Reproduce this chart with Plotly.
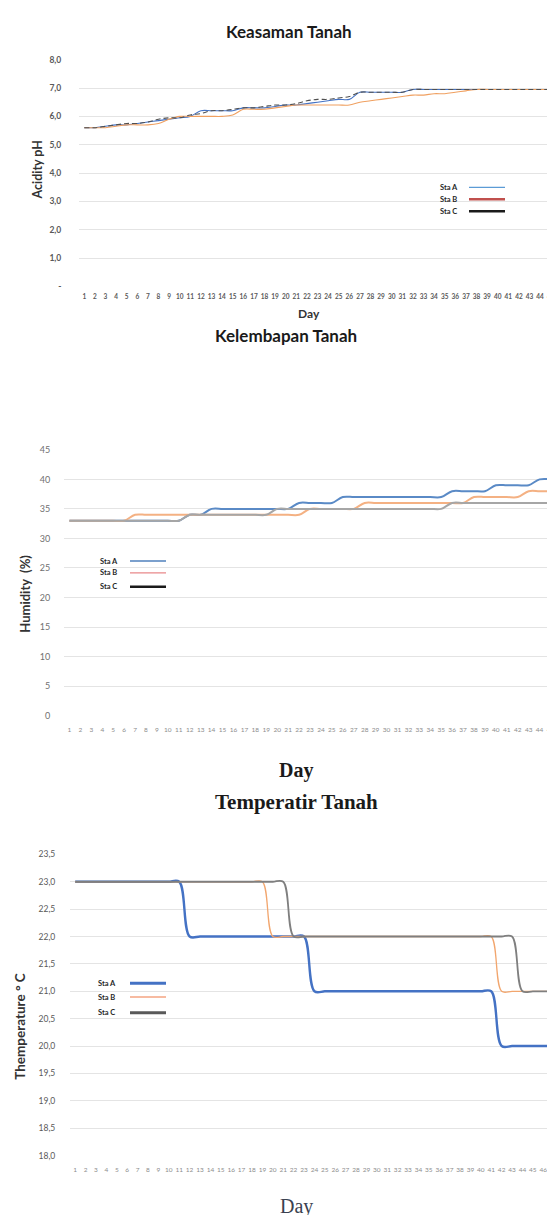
import plotly.graph_objects as go

W, H = 555, 1215

# ---------------- data ----------------
series_names = ["Sta A", "Sta B", "Sta C"]

# Chart 1 : Keasaman Tanah (pH)
ph_days = list(range(1, 46))
ph_sta_a = [5.6, 5.6, 5.65, 5.7, 5.7, 5.75, 5.8, 5.85, 5.9, 5.95,
            6.0, 6.2, 6.2, 6.2, 6.2, 6.3, 6.3, 6.3, 6.35, 6.4,
            6.4, 6.45, 6.5, 6.55, 6.6, 6.6, 6.85, 6.85, 6.85, 6.85,
            6.85, 6.95, 6.95, 6.95, 6.95, 6.95, 6.95, 6.95, 6.95, 6.95,
            6.95, 6.95, 6.95, 6.95, 6.95]
ph_sta_b = [5.6, 5.6, 5.6, 5.65, 5.7, 5.7, 5.7, 5.75, 5.9, 6.0,
            6.0, 6.0, 6.0, 6.0, 6.05, 6.25, 6.25, 6.25, 6.3, 6.35,
            6.4, 6.4, 6.4, 6.4, 6.4, 6.4, 6.5, 6.55, 6.6, 6.65,
            6.7, 6.75, 6.75, 6.8, 6.8, 6.85, 6.9, 6.95, 6.95, 6.95,
            6.95, 6.95, 6.95, 6.95, 6.95]
ph_sta_c = [5.6, 5.6, 5.65, 5.7, 5.75, 5.75, 5.8, 5.9, 5.95, 5.95,
            6.05, 6.1, 6.2, 6.2, 6.25, 6.3, 6.3, 6.35, 6.4, 6.4,
            6.45, 6.55, 6.6, 6.6, 6.65, 6.7, 6.85, 6.85, 6.85, 6.85,
            6.85, 6.95, 6.95, 6.95, 6.95, 6.95, 6.95, 6.95, 6.95, 6.95,
            6.95, 6.95, 6.95, 6.95, 6.95]
ph_tickvals = [0, 1, 2, 3, 4, 5, 6, 7, 8]
ph_ticktext = ["-", "1,0", "2,0", "3,0", "4,0", "5,0", "6,0", "7,0", "8,0"]

# Chart 2 : Kelembapan Tanah (humidity %)
hum_days = list(range(1, 46))
hum_sta_a = [33, 33, 33, 33, 33, 33, 33, 33, 33, 33,
             33, 34, 34, 35, 35, 35, 35, 35, 35, 35,
             35, 36, 36, 36, 36, 37, 37, 37, 37, 37,
             37, 37, 37, 37, 37, 38, 38, 38, 38, 39,
             39, 39, 39, 40, 40]
hum_sta_b = [33, 33, 33, 33, 33, 33, 34, 34, 34, 34,
             34, 34, 34, 34, 34, 34, 34, 34, 34, 34,
             34, 34, 35, 35, 35, 35, 35, 36, 36, 36,
             36, 36, 36, 36, 36, 36, 36, 37, 37, 37,
             37, 37, 38, 38, 38]
hum_sta_c = [33, 33, 33, 33, 33, 33, 33, 33, 33, 33,
             33, 34, 34, 34, 34, 34, 34, 34, 34, 35,
             35, 35, 35, 35, 35, 35, 35, 35, 35, 35,
             35, 35, 35, 35, 35, 36, 36, 36, 36, 36,
             36, 36, 36, 36, 36]
hum_tickvals = [0, 5, 10, 15, 20, 25, 30, 35, 40, 45]

# Chart 3 : Temperatir Tanah (deg C)
temp_days = list(range(1, 51))
temp_sta_a = [23, 23, 23, 23, 23, 23, 23, 23, 23, 23,
              23, 22, 22, 22, 22, 22, 22, 22, 22, 22,
              22, 22, 22, 21, 21, 21, 21, 21, 21, 21,
              21, 21, 21, 21, 21, 21, 21, 21, 21, 21,
              21, 20, 20, 20, 20, 20, 20, 20, 20, 20]
temp_sta_b = [23, 23, 23, 23, 23, 23, 23, 23, 23, 23,
              23, 23, 23, 23, 23, 23, 23, 23, 23, 22,
              22, 22, 22, 22, 22, 22, 22, 22, 22, 22,
              22, 22, 22, 22, 22, 22, 22, 22, 22, 22,
              22, 21, 21, 21, 21, 21, 21, 21, 21, 21]
temp_sta_c = [23, 23, 23, 23, 23, 23, 23, 23, 23, 23,
              23, 23, 23, 23, 23, 23, 23, 23, 23, 23,
              23, 22, 22, 22, 22, 22, 22, 22, 22, 22,
              22, 22, 22, 22, 22, 22, 22, 22, 22, 22,
              22, 22, 22, 21, 21, 21, 21, 21, 21, 21]
temp_tickvals = [18.0, 18.5, 19.0, 19.5, 20.0, 20.5, 21.0, 21.5, 22.0, 22.5, 23.0, 23.5]
temp_ticktext = ["18,0", "18,5", "19,0", "19,5", "20,0", "20,5", "21,0", "21,5",
                 "22,0", "22,5", "23,0", "23,5"]

# ---------------- helpers ----------------
def px(x):
    return x / W


def py(y):
    return 1 - y / H


SANS = "Lato, 'Open Sans', sans-serif"
SERIF = "'Liberation Serif', 'DejaVu Serif', serif"

fig = go.Figure()

# chart 1 lines
c1_styles = [dict(color="#4472C4", width=1.1),
             dict(color="#F0A060", width=1.1),
             dict(color="#505050", width=1.1, dash="5px,3px")]
for name, ys, st in zip(series_names, [ph_sta_a, ph_sta_b, ph_sta_c], c1_styles):
    fig.add_trace(go.Scatter(x=ph_days, y=ys, name=name, mode="lines",
                             line=dict(shape="spline", **st),
                             xaxis="x", yaxis="y", showlegend=False))

# chart 2 lines
c2_styles = [dict(color="#5A8AC6", width=2),
             dict(color="#F4B183", width=2),
             dict(color="#A6A6A6", width=2)]
for name, ys, st in zip(series_names, [hum_sta_a, hum_sta_b, hum_sta_c], c2_styles):
    fig.add_trace(go.Scatter(x=hum_days, y=ys, name=name, mode="lines",
                             line=dict(shape="spline", **st),
                             xaxis="x2", yaxis="y2", showlegend=False))

# chart 3 lines
c3_styles = [dict(color="#4472C4", width=2.4),
             dict(color="#F2A66E", width=1.3),
             dict(color="#7F7F7F", width=1.8)]
for name, ys, st in zip(series_names, [temp_sta_a, temp_sta_b, temp_sta_c], c3_styles):
    fig.add_trace(go.Scatter(x=temp_days, y=ys, name=name, mode="lines",
                             line=dict(shape="spline", **st),
                             xaxis="x3", yaxis="y3", showlegend=False))

grid = "#E4E4E4"
xt_font1 = dict(family=SANS, size=6.5, color="#595959", weight="bold")
xt_font = dict(family=SANS, size=6.5, color="#8C8C8C")

layout = dict(
    width=W, height=H,
    margin=dict(l=0, r=0, t=0, b=0),
    paper_bgcolor="white", plot_bgcolor="white",
    showlegend=False,
    xaxis=dict(domain=[px(71), px(548)], anchor="y", range=[0.5, 45.5],
               tickmode="array", tickvals=ph_days, ticktext=[str(d) for d in ph_days],
               showgrid=False, zeroline=False, showline=False,
               ticks="outside", ticklen=4, tickcolor="rgba(0,0,0,0)",
               tickfont=xt_font1, tickangle=0),
    yaxis=dict(domain=[py(275), py(45.5)], anchor="x", range=[0, 8.02],
               tickmode="array", tickvals=ph_tickvals, ticktext=ph_ticktext,
               showgrid=True, gridcolor=grid, gridwidth=1, zeroline=False, showline=False,
               ticks="outside", ticklen=15, tickcolor="rgba(0,0,0,0)",
               tickfont=dict(family=SANS, size=8.5, color="#595959", weight="bold")),
    xaxis2=dict(domain=[px(56), px(548)], anchor="y2", range=[0.5, 45.5],
                tickmode="array", tickvals=hum_days, ticktext=[str(d) for d in hum_days],
                showgrid=False, zeroline=False, showline=False,
                ticks="outside", ticklen=8, tickcolor="rgba(0,0,0,0)",
                tickfont=xt_font, tickangle=0),
    yaxis2=dict(domain=[py(708), py(439.5)], anchor="x2", range=[0, 45.05],
                tickmode="array", tickvals=hum_tickvals,
                showgrid=True, gridcolor=grid, gridwidth=1, zeroline=False, showline=False,
                ticks="outside", ticklen=11, tickcolor="rgba(0,0,0,0)",
                tickfont=dict(family=SANS, size=9, color="#707070")),
    xaxis3=dict(domain=[px(62), 1.0], anchor="y3", range=[0.5, 47.9],
                tickmode="array", tickvals=temp_days, ticktext=[str(d) for d in temp_days],
                showgrid=False, zeroline=False, showline=False,
                ticks="outside", ticklen=8, tickcolor="rgba(0,0,0,0)",
                tickfont=xt_font, tickangle=0),
    yaxis3=dict(domain=[py(1152), py(847.5)], anchor="x3", range=[18, 23.51],
                tickmode="array", tickvals=temp_tickvals, ticktext=temp_ticktext,
                showgrid=True, gridcolor=grid, gridwidth=1, zeroline=False, showline=False,
                ticks="outside", ticklen=12, tickcolor="rgba(0,0,0,0)",
                tickfont=dict(family=SANS, size=8.5, color="#595959")),
)
fig.update_layout(**layout)

annotations = []
shapes = []


def text(x, y, s, size, family=SANS, bold=True, color="#1A1A1A", angle=0):
    annotations.append(dict(
        x=px(x), y=py(y), xref="paper", yref="paper", text=(f"<b>{s}</b>" if bold else s),
        showarrow=False, xanchor="center", yanchor="middle", textangle=angle,
        font=dict(family=family, size=size, color=color)))


# titles and axis titles
text(281, 18, "Keasaman Tanah", 17)
text(30, 157, "Acidity pH", 12.5, color="#333333", angle=-90)
text(301, 302, "Day", 12, color="#333333")
text(278, 324, "Kelembapan Tanah", 17)
text(17, 585, "Humidity  (%)", 13, color="#333333", angle=-90)
text(288, 763, "Day", 20, family=SERIF)
text(288, 795, "Temperatir Tanah", 21, family=SERIF)
text(12, 1022, "Themperature ° C", 13.5, color="#333333", angle=-90)
text(288, 1203, "Day", 20, family=SERIF, bold=False, color="#3A4150")

# manual legends (text first, line sample after, as in the reference)
legend_specs = [
    dict(x_text=430, x0=461, x1=497, ys=[175, 187, 199],
         styles=[("#5B9BD5", 1.2), ("#C0504D", 2.6), ("#1A1A1A", 2.6)]),
    dict(x_text=90, x0=122, x1=158, ys=[552, 564, 578],
         styles=[("#4F81BD", 1.5), ("#E8888A", 1.2), ("#1A1A1A", 2.6)]),
    dict(x_text=88, x0=122, x1=158, ys=[978, 992, 1008],
         styles=[("#4472C4", 3), ("#F4A582", 1.3), ("#595959", 3)]),
]
for spec in legend_specs:
    for name, yy, (col, wd) in zip(series_names, spec["ys"], spec["styles"]):
        annotations.append(dict(
            x=px(spec["x_text"]), y=py(yy), xref="paper", yref="paper",
            text=f"<b>{name}</b>", showarrow=False, xanchor="left", yanchor="middle",
            font=dict(family=SANS, size=7.5, color="#262626")))
        shapes.append(dict(type="line", xref="paper", yref="paper",
                           x0=px(spec["x0"]), x1=px(spec["x1"]), y0=py(yy), y1=py(yy),
                           line=dict(color=col, width=wd)))

fig.update_layout(annotations=annotations, shapes=shapes)

fig.write_html("out.html")
